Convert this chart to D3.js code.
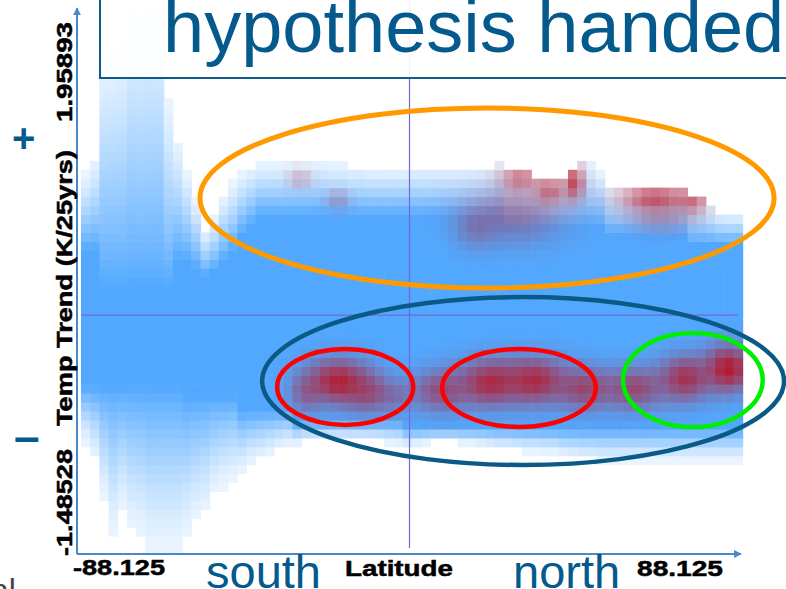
<!DOCTYPE html>
<html><head><meta charset="utf-8">
<script src="https://cdn.jsdelivr.net/npm/d3@7"></script>
<style>
html,body{margin:0;padding:0;background:#fff;overflow:hidden}
svg{display:block}
</style></head><body>
<svg id="chart" width="786" height="589"></svg>
<script>
// Temperature trend (K/25yrs) density by latitude band (2.5° bins, -88.125 .. 88.125).
// Per latitude column: upper and lower extent of the cloud, and the trend range
// where the density is saturated.
const colTop = [0.88,0.98,1.62,1.65,1.68,1.90,1.87,1.91,1.90,1.34,
  1.09,0.90,0.72,0.54,0.62,0.75,0.83,0.89,0.93,0.95,
  0.95,0.95,0.95,0.95,0.95,0.96,0.96,0.95,0.95,0.93,
  0.93,0.92,0.92,0.92,0.92,0.92,0.93,0.93,0.93,0.93,
  0.93,0.93,0.93,0.93,0.93,0.94,0.92,0.92,0.89,0.87,
  0.84,0.83,0.87,0.89,0.95,0.95,0.90,0.80,0.78,0.78,
  0.78,0.79,0.79,0.79,0.79,0.78,0.74,0.72,0.69,0.65,
  0.64,0.64];
const colBottom = [-0.80,-0.90,-1.15,-1.36,-1.23,-1.34,-1.39,-1.47,-1.47,-1.47,
  -1.47,-1.38,-1.29,-1.23,-1.12,-1.07,-1.03,-0.98,-0.93,-0.90,
  -0.87,-0.84,-0.82,-0.81,-0.79,-0.78,-0.78,-0.78,-0.78,-0.78,
  -0.78,-0.78,-0.79,-0.80,-0.81,-0.82,-0.81,-0.80,-0.79,-0.79,
  -0.79,-0.80,-0.80,-0.81,-0.82,-0.83,-0.83,-0.84,-0.85,-0.85,
  -0.86,-0.86,-0.88,-0.89,-0.90,-0.90,-0.91,-0.91,-0.91,-0.91,
  -0.91,-0.91,-0.91,-0.91,-0.91,-0.91,-0.91,-0.91,-0.91,-0.91,
  -0.91,-0.91];
const colCoreTop = [0.40,0.40,0.16,0.16,0.16,0.16,0.16,0.16,0.16,0.16,
  0.34,0.34,0.30,0.25,0.28,0.34,0.40,0.50,0.56,0.62,
  0.62,0.62,0.62,0.62,0.62,0.62,0.62,0.62,0.62,0.62,
  0.62,0.62,0.62,0.62,0.62,0.62,0.62,0.62,0.62,0.62,
  0.62,0.62,0.62,0.62,0.62,0.62,0.56,0.56,0.56,0.56,
  0.56,0.56,0.56,0.56,0.56,0.56,0.56,0.50,0.50,0.50,
  0.50,0.50,0.50,0.50,0.50,0.50,0.44,0.44,0.44,0.44,
  0.44,0.44];
const colCoreBottom = [-0.44,-0.44,-0.44,-0.44,-0.44,-0.44,-0.44,-0.44,-0.44,-0.44,
  -0.44,-0.50,-0.50,-0.50,-0.50,-0.50,-0.50,-0.59,-0.59,-0.59,
  -0.59,-0.59,-0.59,-0.66,-0.66,-0.66,-0.66,-0.66,-0.66,-0.66,
  -0.66,-0.66,-0.66,-0.66,-0.66,-0.70,-0.70,-0.70,-0.70,-0.70,
  -0.70,-0.70,-0.70,-0.70,-0.70,-0.70,-0.70,-0.70,-0.70,-0.70,
  -0.70,-0.70,-0.70,-0.70,-0.70,-0.70,-0.70,-0.70,-0.70,-0.70,
  -0.70,-0.70,-0.70,-0.70,-0.70,-0.70,-0.70,-0.70,-0.70,-0.70,
  -0.70,-0.70];

// Clusters of the highlighted (red) runs: latitude, trend, spread and strength.
const spotLat         = [-19.5,-11.3,-28.4,-3.9, 8.3,21.9,34.1,47.7,61.2,74.9,86.7, 30.1,38.2,44.8,66.8,77.1,28.7,17.8,-29.8,-19.5,68.2];
const spotTrend       = [-0.41,-0.48,-0.48,-0.50, -0.466,-0.416,-0.404,-0.453,-0.453,-0.391,-0.329, 0.852,0.778,0.827,0.728,0.716,0.622,0.541,0.85,0.72,0.60];
const spotLatSpread   = [6.0,4.1,2.9,3.3, 5.4,6.0,6.0,5.4,5.4,4.9,4.4, 3.8,2.7,1.9,6.5,2.7,9.5,3.8,2.4,2.4,6.0];
const spotTrendSpread = [0.10,0.087,0.087,0.075, 0.093,0.10,0.10,0.093,0.093,0.10,0.10, 0.056,0.056,0.075,0.056,0.056,0.124,0.087,0.045,0.045,0.062];
const spotLevel       = [0.92,0.55,0.40,0.30, 0.60,0.85,0.85,0.65,0.65,0.80,0.98, 0.50,0.55,0.75,0.70,0.50,0.38,0.25,0.25,0.25,0.30];

// Axis end labels and titles
const xTickLabels = ["-88.125","88.125"];
const yTickLabels = ["1.95893","-1.48528"];
const xTitle = "Latitude";
const yTitle = "Temp Trend (K/25yrs)";

// Annotation ellipses: centre (lat, trend), radii (deg, K/25yrs)
const ringNames  = ["warm","cool","south","north","pole"];
const ringLat    = [21.1, 30.9, -17.5, 29.8, 77.1];
const ringTrend  = [0.728, -0.410, -0.447, -0.453, -0.404];
const ringRLat   = [78.1, 71.0, 18.5, 20.9, 19.0];
const ringRTrend = [0.56, 0.522, 0.236, 0.242, 0.292];
const ringColor  = ["#ff9900","#0a5a85","#ff0000","#ff0000","#00ee00"];
const ringWidth  = [5, 4.5, 4.5, 4.5, 4.5];

const latMin = -88.125, latStep = 2.5;
const trendMin = -1.48528, trendMax = 1.95893;
const lats = colTop.map((_, i) => latMin + i * latStep);

const svg = d3.select("#chart");
const x = d3.scaleLinear().domain([latMin - latStep/2, -latMin + latStep/2]).range([81, 738]);
const y = d3.scaleLinear().domain([trendMin, trendMax]).range([554, 0]);

const nRows = 62, rowStep = (trendMax - trendMin) / nRows;
const blue = d3.rgb(82, 168, 255), red = d3.rgb(185, 22, 40);

const cells = [];
lats.forEach((lat, i) => {
  for (let k = 0; k < nRows; k++) {
    const t0 = trendMin + k * rowStep, t1 = t0 + rowStep, tc = (t0 + t1) / 2;
    if (tc > colTop[i] || tc < colBottom[i]) continue;
    let a = 1;
    if (tc > colCoreTop[i]) {
      const f = Math.max(0, Math.min(1, (colTop[i] - tc) / (colTop[i] - colCoreTop[i])));
      a = 0.12 + 0.88 * Math.pow(f, 1.25);
    } else if (tc < colCoreBottom[i]) {
      const f = Math.max(0, Math.min(1, (tc - colBottom[i]) / (colCoreBottom[i] - colBottom[i])));
      a = 0.12 + 0.88 * Math.pow(f, 1.4);
    }
    let keep = 1;
    spotLat.forEach((sl, j) => {
      const dx = (lat - sl) / spotLatSpread[j], dy = (tc - spotTrend[j]) / spotTrendSpread[j];
      keep *= 1 - spotLevel[j] * Math.exp(-0.5 * (dx*dx + dy*dy));
    });
    const base = d3.interpolateRgb("#ffffff", blue)(a);
    cells.push({lat, t0, t1, fill: d3.interpolateRgb(base, red)(1 - keep)});
  }
});

svg.append("g").selectAll("rect").data(cells).join("rect")
  .attr("x", d => x(d.lat - latStep/2))
  .attr("width", d => x(d.lat + latStep/2) - x(d.lat - latStep/2) + 0.6)
  .attr("y", d => y(d.t1))
  .attr("height", d => y(d.t0) - y(d.t1) + 0.6)
  .attr("fill", d => d.fill);

// zero reference lines
const refColor = "#7466d8";
svg.append("line").attr("x1", x.range()[0]).attr("x2", x.range()[1])
  .attr("y1", y(0)).attr("y2", y(0)).attr("stroke", refColor).attr("stroke-width", 1.2);
svg.append("line").attr("x1", x(0)).attr("x2", x(0))
  .attr("y1", 0).attr("y2", y(trendMin) - 6).attr("stroke", refColor).attr("stroke-width", 1.2);

// axes with arrow heads
const axisColor = "#4a88c6";
const defs = svg.append("defs");
defs.append("marker").attr("id", "arrow").attr("viewBox", "0 0 10 10")
  .attr("refX", 9).attr("refY", 5).attr("markerWidth", 4).attr("markerHeight", 4)
  .attr("orient", "auto").append("path").attr("d", "M0,0L10,5L0,10Z").attr("fill", axisColor);
svg.append("line").attr("x1", 77).attr("x2", 77).attr("y1", y(trendMin)).attr("y2", 8)
  .attr("stroke", axisColor).attr("stroke-width", 2).attr("marker-end", "url(#arrow)");
svg.append("line").attr("x1", 77).attr("x2", 741).attr("y1", y(trendMin)).attr("y2", y(trendMin))
  .attr("stroke", axisColor).attr("stroke-width", 2).attr("marker-end", "url(#arrow)");

// axis labels
function styled(sel, len) {
  return sel.attr("font-family", "Liberation Sans, Arial, sans-serif").attr("font-weight", "bold")
    .attr("font-size", 22).attr("fill", "#000").attr("stroke", "#000").attr("stroke-width", 0.5)
    .attr("textLength", len).attr("lengthAdjust", "spacingAndGlyphs");
}
styled(svg.append("text"), 92).attr("x", 73).attr("y", 575).text(xTickLabels[0]);
styled(svg.append("text"), 86).attr("x", 637).attr("y", 576).text(xTickLabels[1]);
styled(svg.append("text"), 108).attr("x", 345).attr("y", 576).text(xTitle);
styled(svg.append("text"), 100).attr("transform", "translate(72,122) rotate(-90)").text(yTickLabels[0]);
styled(svg.append("text"), 107).attr("transform", "translate(72,556) rotate(-90)").text(yTickLabels[1]);
styled(svg.append("text"), 276).attr("transform", "translate(72,426) rotate(-90)").text(yTitle);

// annotation rings
svg.append("g").selectAll("ellipse").data(ringNames).join("ellipse")
  .attr("cx", (d, i) => x(ringLat[i]))
  .attr("cy", (d, i) => y(ringTrend[i]))
  .attr("rx", (d, i) => x(ringRLat[i]) - x(0))
  .attr("ry", (d, i) => y(0) - y(ringRTrend[i]))
  .attr("fill", "none")
  .attr("stroke", (d, i) => ringColor[i])
  .attr("stroke-width", (d, i) => ringWidth[i]);

// heading box
const ink = "#045a8c";
svg.append("rect").attr("x", 100).attr("y", -5).attr("width", 700).attr("height", 83)
  .attr("fill", "#fff").attr("fill-opacity", 0.9).attr("stroke", "#0d5b8a").attr("stroke-width", 2);
svg.append("text").attr("x", 163).attr("y", 52).attr("font-family", "Liberation Sans, Arial, sans-serif")
  .attr("font-size", 74).attr("fill", ink).text("hypothesis handed");

// side words
const word = sel => sel.attr("font-family", "Liberation Sans, Arial, sans-serif").attr("fill", ink);
word(svg.append("text")).attr("x", 206).attr("y", 588).attr("font-size", 47).text("south");
word(svg.append("text")).attr("x", 513).attr("y", 588).attr("font-size", 47).text("north");
word(svg.append("text")).attr("x", 12).attr("y", 152).attr("font-size", 40).attr("font-weight", "bold").text("+");
word(svg.append("text")).attr("x", 14).attr("y", 452).attr("font-size", 46).attr("font-weight", "bold").text("–");
svg.append("text").attr("x", -9).attr("y", 601).attr("font-family", "Liberation Sans, Arial, sans-serif")
  .attr("font-size", 32).attr("fill", "#444").text("al");
</script>
</body></html>
